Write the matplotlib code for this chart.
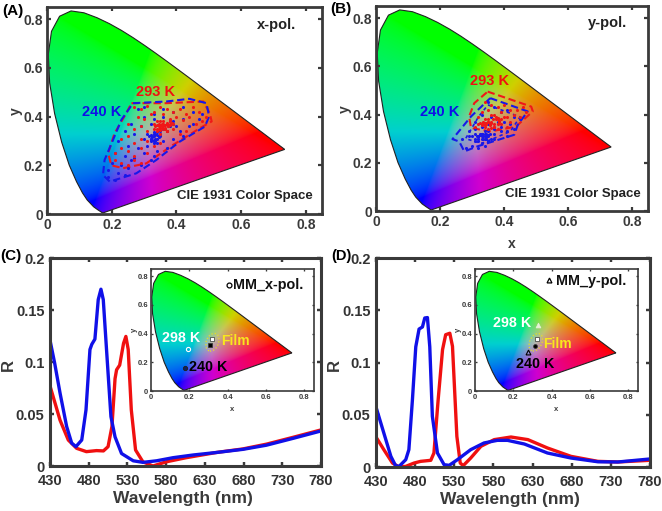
import matplotlib
matplotlib.use("Agg")
import matplotlib.pyplot as plt
import numpy as np
from matplotlib.patches import Polygon, Ellipse

plt.rcParams['font.family'] = ['Liberation Sans', 'DejaVu Sans']
plt.rcParams['font.weight'] = 'bold'
plt.rcParams['axes.labelweight'] = 'bold'

# spectral locus (CIE 1931)
locus_x = [.1741,.1733,.1714,.1689,.1644,.1566,.1440,.1241,.1096,.0913,.0687,.0454,.0235,.0082,.0039,.0139,.0389,.0743,.1142,.1547,.1929,.2296,.2658,.3016,.3373,.3731,.4087,.4441,.4788,.5125,.5448,.5752,.6029,.6270,.6482,.6658,.6915,.7079,.7190,.7260,.7300,.7347]
locus_y = [.0050,.0048,.0051,.0069,.0109,.0177,.0297,.0578,.0868,.1327,.2007,.2950,.4127,.5384,.6548,.7502,.8120,.8338,.8262,.8059,.7816,.7543,.7243,.6923,.6589,.6245,.5896,.5547,.5202,.4866,.4544,.4242,.3965,.3725,.3514,.3340,.3083,.2920,.2809,.2740,.2700,.2653]

# panel A outlines
a_red_x = [.261,.369,.483,.503,.509,.472,.39,.307,.235,.199,.189,.209,.245,.261]
a_red_y = [.455,.455,.462,.414,.38,.352,.284,.208,.188,.20,.25,.332,.414,.455]
a_blue_x = [.266,.369,.44,.493,.501,.488,.41,.338,.276,.194,.173,.178,.204,.23,.266]
a_blue_y = [.455,.462,.473,.455,.40,.359,.297,.222,.167,.133,.16,.222,.304,.387,.455]

# panel A points
a_red_px = [.27,.29,.31,.33,.35,.37,.39,.41,.43,.45,.47,.49,.28,.30,.32,.34,.36,.38,.40,.42,.44,.46,.48,.25,.27,.29,.31,.33,.35,.37,.39,.41,.43,.23,.25,.27,.29,.31,.33,.35,.21,.23,.25,.27,.29,.31,.21,.23,.25,.27,.29,.33,.34,.345,.35,.355,.36,.365,.37,.375,.38,.34,.35,.36,.37,.38,.39,.335,.34,.345,.35,.355,.36,.365,.37,.375,.38,.385,.345,.35,.355,.36,.365]
a_red_py = [.44,.43,.445,.42,.44,.43,.42,.43,.41,.44,.42,.40,.40,.39,.41,.38,.41,.39,.40,.385,.40,.37,.38,.37,.35,.36,.34,.35,.33,.34,.35,.33,.34,.31,.32,.29,.31,.30,.28,.29,.25,.27,.26,.24,.27,.25,.22,.21,.20,.22,.21,.37,.35,.36,.38,.355,.37,.35,.375,.36,.365,.34,.345,.35,.34,.38,.37,.36,.365,.37,.36,.37,.36,.365,.37,.36,.37,.375,.35,.355,.365,.38,.355]
a_blue_px = [.28,.30,.33,.36,.39,.42,.45,.48,.30,.33,.36,.39,.42,.45,.47,.26,.29,.32,.35,.38,.41,.44,.24,.27,.30,.33,.36,.39,.42,.22,.25,.28,.31,.34,.37,.21,.24,.27,.30,.33,.20,.23,.26,.29,.32,.19,.22,.25,.19,.21,.24,.31,.32,.325,.33,.335,.34,.345,.35,.32,.33,.34,.35,.36,.38,.40,.37,.39,.315,.32,.325,.33,.335,.34,.345,.32,.33,.34,.325,.335]
a_blue_py = [.43,.44,.41,.43,.42,.44,.42,.41,.40,.39,.40,.38,.39,.37,.39,.37,.36,.37,.34,.36,.34,.36,.34,.33,.31,.29,.30,.31,.32,.30,.28,.27,.28,.26,.27,.25,.24,.23,.25,.24,.21,.20,.22,.20,.22,.18,.17,.19,.15,.14,.16,.33,.31,.32,.30,.33,.31,.32,.32,.30,.33,.29,.33,.35,.38,.36,.34,.37,.32,.325,.315,.32,.31,.325,.315,.31,.335,.335,.305,.30]

# panel B outlines
b_red_x = [.349,.485,.49,.437,.359,.297,.291,.307,.349]
b_red_y = [.495,.433,.413,.35,.33,.344,.392,.447,.495]
b_blue_x = [.357,.474,.443,.432,.317,.276,.26,.239,.297,.357]
b_blue_y = [.468,.413,.357,.316,.268,.247,.288,.298,.392,.468]
b_blue2_x = [.35,.45,.42,.33,.28,.32,.35]
b_blue2_y = [.44,.39,.33,.28,.30,.39,.44]

# panel B points
b_red_px = [.34,.36,.38,.40,.42,.44,.46,.47,.33,.35,.37,.39,.41,.43,.45,.32,.34,.36,.38,.40,.42,.31,.33,.35,.37,.39,.41,.33,.335,.34,.345,.35,.355,.36,.365,.37,.375,.38,.385,.39,.34,.35,.36,.37,.38,.32,.325,.33,.335,.34,.345,.35,.355,.36,.375,.38,.385]
b_red_py = [.45,.44,.43,.44,.42,.42,.43,.41,.41,.42,.40,.41,.39,.40,.39,.39,.38,.40,.38,.39,.37,.35,.36,.37,.35,.36,.35,.36,.37,.355,.365,.38,.36,.37,.38,.35,.39,.36,.37,.38,.35,.34,.345,.36,.34,.36,.365,.355,.36,.365,.36,.37,.355,.365,.38,.385,.375]
b_blue_px = [.35,.37,.39,.41,.43,.45,.33,.36,.38,.40,.42,.31,.33,.35,.37,.39,.41,.43,.29,.31,.33,.35,.37,.39,.41,.27,.29,.31,.33,.35,.37,.28,.30,.32,.34,.30,.31,.32,.325,.33,.335,.34,.345,.35,.355,.36,.33,.34,.35,.32,.31,.315,.32,.325,.33,.335,.34,.345,.35,.33,.34,.32,.345]
b_blue_py = [.45,.43,.41,.42,.39,.38,.40,.39,.37,.37,.36,.37,.35,.36,.34,.35,.33,.34,.33,.34,.32,.33,.32,.33,.31,.30,.31,.29,.28,.29,.30,.26,.27,.26,.27,.31,.30,.31,.32,.30,.31,.32,.30,.31,.32,.30,.32,.33,.29,.29,.32,.31,.305,.315,.31,.30,.31,.305,.315,.32,.30,.30,.32]

# panel C curves
c_blue_wl = [430,436,443,451.5,458,463.5,471,476.5,481.6,484,488,492.3,495.8,498.8,503,508.7,514,522.4,537.5,550,567.6,589,615,645,679,709.5,744,780]
c_blue_r = [.121,.099,.07,.038,.022,.0186,.025,.054,.112,.117,.122,.16,.17,.16,.112,.0475,.028,.012,.005,.0035,.005,.008,.0106,.013,.016,.02,.0266,.0337]
c_red_wl = [430,443,453.6,464.4,477,490,499,505,510,514,516,520,525,528,531,535,540.5,550,563,580,606,645,679,709.5,744,780]
c_red_r = [.077,.044,.025,.017,.0138,.0148,.0145,.0186,.038,.084,.0925,.097,.118,.1246,.112,.054,.0154,.004,.0,.004,.008,.013,.0164,.021,.0276,.0347]

# panel D curves
d_blue_wl = [430,440,449,455,459.5,468,472,476.5,480.8,485,489.3,492.3,495.7,498.7,502,508.5,517,523.5,534,551,568,585,598,619.5,649,679,713.4,739,780]
d_blue_r = [.0574,.0325,.0102,.0013,.0006,.007,.0166,.064,.115,.132,.134,.1426,.143,.115,.0485,.0134,.0022,.0016,.007,.0166,.023,.0255,.0255,.022,.0134,.0086,.005,.0048,.0077]
d_red_wl = [430,440,451,459.5,468,478.7,487,500,504,509.4,515,519,524.3,527.7,533.3,537.6,541.4,551,564,581,602.4,624,649,679,713.4,739,780]
d_red_r = [.0287,.0166,.0038,0,.0006,.0038,.0054,.0064,.0134,.0644,.1123,.1266,.128,.1155,.0293,.0038,.0013,.0086,.0198,.0262,.0287,.0262,.0182,.0102,.0054,.0048,.0064]

wl_ticks = [430,480,530,580,630,680,730,780]
r_ticks = [0,.05,.1,.15,.2]
r_labels = ['0','0.05','0.1','0.15','0.2']
xy_ticks = [0,.2,.4,.6,.8]
xy_labels = ['0','0.2','0.4','0.6','0.8']

W, H = 662, 511
fig = plt.figure(figsize=(W/100, H/100), dpi=100)
dark = '#3a3a3a'


def add_ax(left, top, right, bottom):
    return fig.add_axes([left/W, 1-bottom/H, (right-left)/W, (bottom-top)/H])


def gamut(ax):
    xs = np.linspace(0, .85, 500)
    ys = np.linspace(0, .85, 500)
    gx, gy = np.meshgrid(xs, ys)
    gy = np.maximum(gy, 1e-3)
    X = gx/gy
    Z = (1-gx-gy)/gy
    r = 3.2406*X-1.5372-.4986*Z
    g = -.9689*X+1.8758+.0415*Z
    b = .0557*X-.2040+1.0570*Z
    rgb = np.clip(np.dstack([r, g, b]), 0, None)
    rgb = rgb/rgb.max(axis=2, keepdims=True).clip(1e-6)
    rgb = rgb/(.55+.45*rgb.sum(axis=2, keepdims=True)/1.0).clip(1, None)**.9
    rgb = np.clip(rgb, 0, 1)**.62
    im = ax.imshow(rgb, origin='lower', extent=[0, .85, 0, .85], aspect='auto', interpolation='bilinear')
    pts = list(zip(locus_x, locus_y))
    poly = Polygon(pts, closed=True, fc='none', ec='#222222', lw=.8, transform=ax.transData)
    ax.add_patch(poly)
    im.set_clip_path(poly)
    ax.set_xlim(0, .85)
    ax.set_ylim(0, .85)


def style(ax, size, lw, length):
    ax.tick_params(direction='in', top=True, right=True, width=lw*.8, length=length,
                   labelsize=size, colors=dark, pad=3 if size > 8 else 2)
    for s in ax.spines.values():
        s.set_linewidth(lw)
        s.set_color(dark)


def chroma_panel(ax):
    gamut(ax)
    ax.set_xticks(xy_ticks, xy_labels)
    ax.set_yticks(xy_ticks, xy_labels)
    style(ax, 10, 2, 3)


def curve_panel(ax, red, blue):
    ax.plot(red[0], red[1], color='#f01010', lw=2.4)
    ax.plot(blue[0], blue[1], color='#1010e8', lw=2.4)
    ax.set_xlim(430, 780)
    ax.set_ylim(0, .2)
    ax.set_xticks(wl_ticks)
    ax.set_yticks(r_ticks, r_labels)
    style(ax, 10.5, 2.2, 3)
    for lab in ax.get_xticklabels()+ax.get_yticklabels():
        lab.set_color('#333333')
    ax.tick_params(axis='x', pad=6)
    ax.tick_params(axis='y', pad=4)


# (A)
axA = add_ax(47, 7, 322, 214)
chroma_panel(axA)
axA.plot(a_red_x, a_red_y, color='#f01818', lw=1.5, ls=(0, (3.5, 1.8)))
axA.plot(a_blue_x, a_blue_y, color='#1818e8', lw=1.5, ls=(0, (3.5, 1.8)))
axA.scatter(a_blue_px, a_blue_py, s=5, color='#1818e8', lw=0, zorder=3)
axA.scatter(a_red_px, a_red_py, s=5, color='#f01818', lw=0, zorder=3)
axA.text(.336, .50, '293 K', color='#f01010', fontsize=10.5, ha='center', va='center')
axA.text(.168, .418, '240 K', color='#1010e8', fontsize=10.5, ha='center', va='center')
axA.text(.708, .778, 'x-pol.', color='#222222', fontsize=10.5, ha='center', va='center')
axA.text(.611, .074, 'CIE 1931 Color Space', color='#222222', fontsize=9.5, ha='center', va='center')

# (B)
axB = add_ax(376, 6, 648, 211)
chroma_panel(axB)
axB.plot(b_red_x, b_red_y, color='#f01818', lw=1.5, ls=(0, (3.5, 1.8)))
axB.plot(b_blue_x, b_blue_y, color='#1818e8', lw=1.5, ls=(0, (3.5, 1.8)))
axB.plot(b_blue2_x, b_blue2_y, color='#1818e8', lw=1.2, ls=(0, (2, 2)))
axB.scatter(b_blue_px, b_blue_py, s=5, color='#1818e8', lw=0, zorder=3)
axB.scatter(b_red_px, b_red_py, s=5, color='#f01818', lw=0, zorder=3)
axB.text(.354, .538, '293 K', color='#f01010', fontsize=10.5, ha='center', va='center')
axB.text(.20, .41, '240 K', color='#1010e8', fontsize=10.5, ha='center', va='center')
axB.text(.725, .778, 'y-pol.', color='#222222', fontsize=10.5, ha='center', va='center')
axB.text(.615, .072, 'CIE 1931 Color Space', color='#222222', fontsize=9.5, ha='center', va='center')

# (C)
axC = add_ax(50, 258, 321, 466)
curve_panel(axC, (c_red_wl, c_red_r), (c_blue_wl, c_blue_r))

# (D)
axD = add_ax(376, 258, 650, 467)
curve_panel(axD, (d_red_wl, d_red_r), (d_blue_wl, d_blue_r))

for ax in (axC, axD):
    ax.set_zorder(1)


def inset(left, top, right, bottom):
    ax = add_ax(left, top, right, bottom)
    ax.set_zorder(2)
    gamut(ax)
    ax.set_xticks(xy_ticks, xy_labels)
    ax.set_yticks(xy_ticks, xy_labels)
    style(ax, 5.5, 1.2, 1.5)
    ax.set_xlabel('x', fontsize=5.5, color=dark, labelpad=4)
    ax.set_ylabel('y', fontsize=5.5, color=dark, labelpad=0)
    return ax


# inset C
inC = inset(151, 269, 314, 391)
inC.add_patch(Ellipse((.32, .34), .065, .125, angle=-12, fc='none', ec='#e8e020', lw=.9, ls=':'))
inC.plot(.32, .365, 's', ms=2.8, mfc='white', mec='#333333', mew=.5)
inC.plot(.31, .32, 's', ms=2.8, mfc='black', mec='#333333', mew=.5)
inC.plot(.195, .29, 'o', ms=3, mfc='none', mec='white', mew=.8)
inC.plot(.178, .16, 'o', ms=3, mfc='#102060', mec='#222222', mew=.7)
inC.plot(.405, .737, 'o', ms=3.5, mfc='none', mec='black', mew=.9)
inC.text(.43, .737, 'MM_x-pol.', color='#111111', fontsize=10.4, ha='left', va='center')
inC.text(.155, .366, '298 K', color='white', fontsize=10.3, ha='center', va='center')
inC.text(.30, .169, '240 K', color='black', fontsize=10.3, ha='center', va='center')
inC.text(.44, .345, 'Film', color='#f8e81c', fontsize=10, ha='center', va='center')

# inset D
inD = inset(475, 269, 638, 391)
inD.add_patch(Ellipse((.317, .34), .065, .125, angle=-15, fc='none', ec='#e8e020', lw=.9, ls=':'))
inD.plot(.322, .363, 's', ms=2.8, mfc='white', mec='#333333', mew=.5)
inD.plot(.313, .316, 'o', ms=2.8, mfc='black', mec='#333333', mew=.5)
inD.plot(.331, .458, '^', ms=3.5, mfc='#e8f0d8', mec='#e8f0d8', mew=.5)
inD.plot(.277, .274, '^', ms=3.5, mfc='none', mec='black', mew=.8)
inD.plot(.387, .772, '^', ms=3.5, mfc='none', mec='black', mew=.9)
inD.text(.42, .765, 'MM_y-pol.', color='#111111', fontsize=10.4, ha='left', va='center')
inD.text(.193, .474, '298 K', color='white', fontsize=10.3, ha='center', va='center')
inD.text(.315, .19, '240 K', color='black', fontsize=10.3, ha='center', va='center')
inD.text(.432, .33, 'Film', color='#f8e81c', fontsize=10, ha='center', va='center')


# labels placed in pixels
def px_text(x, y, s, **kw):
    fig.text(x/W, 1-y/H, s, ha='center', va='center', **kw)


px_text(13, 11, '(A)', fontsize=11, color='black')
px_text(341, 9, '(B)', fontsize=11, color='black')
px_text(11, 256, '(C)', fontsize=11, color='black')
px_text(341, 256, '(D)', fontsize=10.5, color='black')
px_text(16, 111, 'y', fontsize=10, color=dark, rotation=90)
px_text(345, 109, 'y', fontsize=10, color=dark, rotation=90)
px_text(512, 244, 'x', fontsize=10, color=dark)
px_text(8, 365, 'R', fontsize=12, color=dark, rotation=90)
px_text(334, 365, 'R', fontsize=12, color=dark, rotation=90)
px_text(183, 498, 'Wavelength (nm)', fontsize=12.5, color=dark)
px_text(510, 499, 'Wavelength (nm)', fontsize=12.5, color=dark)

fig.savefig('out.png', dpi=100)
